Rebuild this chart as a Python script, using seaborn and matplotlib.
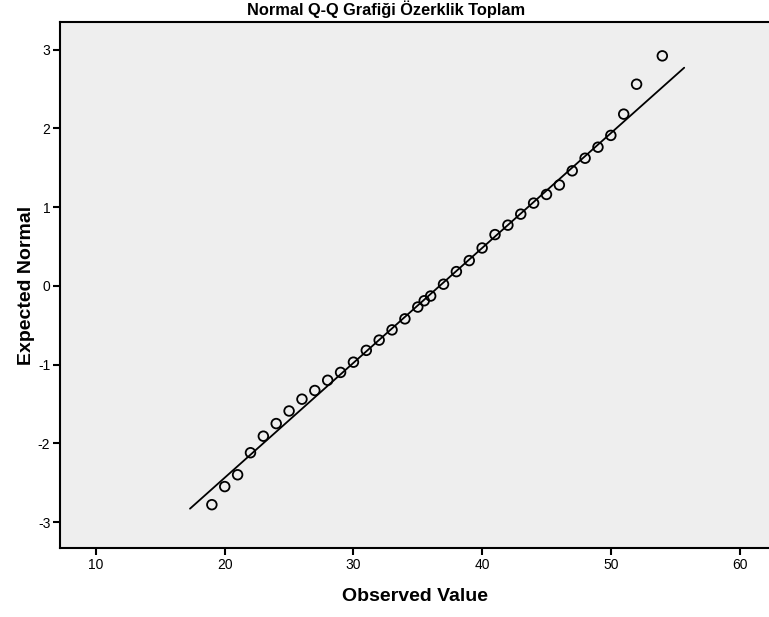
import matplotlib
matplotlib.use("Agg")
import matplotlib.pyplot as plt
import seaborn as sns
import numpy as np
import pandas as pd

# observed scores and their expected normal values
observed = [19, 20, 21, 22, 23, 24, 25, 26, 27, 28, 29, 30, 31, 32, 33, 34, 35, 35.5,
            36, 37, 38, 39, 40, 41, 42, 43, 44, 45, 46, 47, 48, 49, 50, 51, 52, 54]
expected = [-2.78, -2.55, -2.40, -2.12, -1.91, -1.75, -1.59, -1.44, -1.33, -1.20, -1.10,
            -0.97, -0.82, -0.69, -0.56, -0.42, -0.27, -0.19, -0.13, 0.02, 0.18, 0.32,
            0.48, 0.65, 0.77, 0.91, 1.05, 1.16, 1.28, 1.46, 1.62, 1.76, 1.91, 2.18,
            2.56, 2.92]

# reference line: normal with this mean / sd, drawn over this x range
line_mean = 36.71
line_sd = 6.857
line_x = [17.3, 55.7]

x_ticks = [10, 20, 30, 40, 50, 60]
y_ticks = [-3, -2, -1, 0, 1, 2, 3]

sns.set_style("white", {"axes.facecolor": "#eeeeee", "text.color": "black",
                        "axes.labelcolor": "black", "xtick.color": "black",
                        "ytick.color": "black", "xtick.bottom": True,
                        "ytick.left": True})
plt.rcParams['font.family'] = ['Liberation Sans', 'DejaVu Sans']
plt.rcParams['axes.unicode_minus'] = False

df = pd.DataFrame({"obs": observed, "exp": expected})
line_df = pd.DataFrame({"x": line_x})
line_df["y"] = (line_df["x"] - line_mean) / line_sd

fig = plt.figure(figsize=(7.69, 6.17), dpi=100)
ax = fig.add_axes([60 / 769, 1 - 548 / 617, 709 / 769, (548 - 22) / 617])

sns.lineplot(data=line_df, x="x", y="y", ax=ax, color="black", lw=1.3)
sns.scatterplot(data=df, x="obs", y="exp", ax=ax, marker="o", s=48,
                facecolor="none", edgecolor="black", linewidth=1.3, zorder=3)

ax.set_xlim(7.2, 7.2 + 709 / 12.87)
ax.set_ylim(-3.33, 3.35)
ax.set_xticks(x_ticks)
ax.set_yticks(y_ticks)

for s in ["left", "bottom", "top"]:
    ax.spines[s].set_color("black")
    ax.spines[s].set_linewidth(1.5)
ax.spines["right"].set_visible(False)

ax.tick_params(axis="both", direction="out", length=5, width=1.5, color="black",
               labelsize=10, labelcolor="black", pad=2, bottom=True, left=True)

ax.set_xlabel("Observed Value", fontsize=14, fontweight="bold", labelpad=12)
ax.set_ylabel("Expected Normal", fontsize=14, fontweight="bold", labelpad=2)
fig.text(386 / 769, 1 - 15.5 / 617, "Normal Q-Q Grafiği Özerklik Toplam",
         ha="center", va="baseline", fontsize=11.8, fontweight="bold")

fig.savefig("out.png", dpi=100, facecolor="white")
